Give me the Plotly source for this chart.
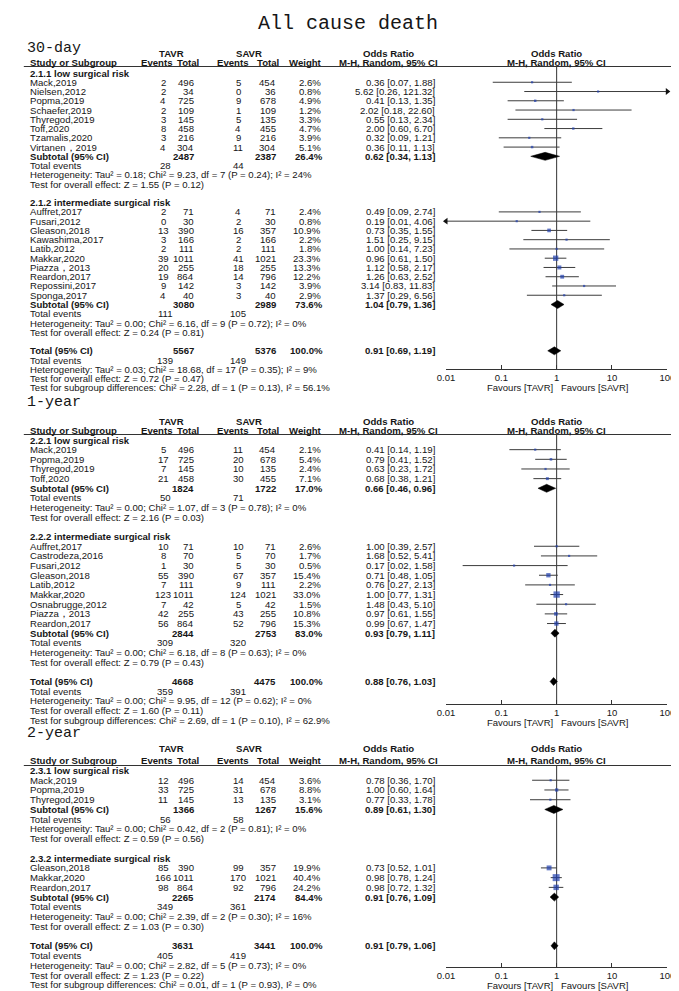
import math
import plotly.graph_objects as go

W, H = 679, 991

# ================= DATA =================
# ---- 30-day ----
d30_low_study = ["Mack,2019", "Nielsen,2012", "Popma,2019", "Schaefer,2019", "Thyregod,2019",
                 "Toff,2020", "Tzamalis,2020", "Virtanen，2019"]
d30_low_te = [2, 2, 4, 2, 3, 8, 3, 4]
d30_low_tn = [496, 34, 725, 109, 145, 458, 216, 304]
d30_low_se = [5, 0, 9, 1, 5, 4, 9, 11]
d30_low_sn = [454, 36, 678, 109, 135, 455, 216, 304]
d30_low_w = [2.6, 0.8, 4.9, 1.2, 3.3, 4.7, 3.9, 5.1]
d30_low_or = [0.36, 5.62, 0.41, 2.02, 0.55, 2.00, 0.32, 0.36]
d30_low_lo = [0.07, 0.26, 0.13, 0.18, 0.13, 0.60, 0.09, 0.11]
d30_low_hi = [1.88, 121.32, 1.35, 22.60, 2.34, 6.70, 1.21, 1.13]
d30_low_sub = [2487, 2387, 26.4, 0.62, 0.34, 1.13]
d30_low_events = [28, 44]
d30_low_het = [0.18, 9.23, 7, 0.24, 24]
d30_low_z = [1.55, 0.12]

d30_int_study = ["Auffret,2017", "Fusari,2012", "Gleason,2018", "Kawashima,2017", "Latib,2012",
                 "Makkar,2020", "Piazza，2013", "Reardon,2017", "Repossini,2017", "Sponga,2017"]
d30_int_te = [2, 0, 13, 3, 2, 39, 20, 19, 9, 4]
d30_int_tn = [71, 30, 390, 166, 111, 1011, 255, 864, 142, 40]
d30_int_se = [4, 2, 16, 2, 2, 41, 18, 14, 3, 3]
d30_int_sn = [71, 30, 357, 166, 111, 1021, 255, 796, 142, 40]
d30_int_w = [2.4, 0.8, 10.9, 2.2, 1.8, 23.3, 13.3, 12.2, 3.9, 2.9]
d30_int_or = [0.49, 0.19, 0.73, 1.51, 1.00, 0.96, 1.12, 1.26, 3.14, 1.37]
d30_int_lo = [0.09, 0.01, 0.35, 0.25, 0.14, 0.61, 0.58, 0.63, 0.83, 0.29]
d30_int_hi = [2.74, 4.06, 1.55, 9.15, 7.23, 1.50, 2.17, 2.52, 11.83, 6.56]
d30_int_sub = [3080, 2989, 73.6, 1.04, 0.79, 1.36]
d30_int_events = [111, 105]
d30_int_het = [0.00, 6.16, 9, 0.72, 0]
d30_int_z = [0.24, 0.81]

d30_total = [5567, 5376, 100.0, 0.91, 0.69, 1.19]
d30_total_events = [139, 149]
d30_total_het = [0.03, 18.68, 17, 0.35, 9]
d30_total_z = [0.72, 0.47]
d30_subdiff = [2.28, 1, 0.13, 56.1]

# ---- 1-year ----
d1y_low_study = ["Mack,2019", "Popma,2019", "Thyregod,2019", "Toff,2020"]
d1y_low_te = [5, 17, 7, 21]
d1y_low_tn = [496, 725, 145, 458]
d1y_low_se = [11, 20, 10, 30]
d1y_low_sn = [454, 678, 135, 455]
d1y_low_w = [2.1, 5.4, 2.4, 7.1]
d1y_low_or = [0.41, 0.79, 0.63, 0.68]
d1y_low_lo = [0.14, 0.41, 0.23, 0.38]
d1y_low_hi = [1.19, 1.52, 1.72, 1.21]
d1y_low_sub = [1824, 1722, 17.0, 0.66, 0.46, 0.96]
d1y_low_events = [50, 71]
d1y_low_het = [0.00, 1.07, 3, 0.78, 0]
d1y_low_z = [2.16, 0.03]

d1y_int_study = ["Auffret,2017", "Castrodeza,2016", "Fusari,2012", "Gleason,2018", "Latib,2012",
                 "Makkar,2020", "Osnabrugge,2012", "Piazza，2013", "Reardon,2017"]
d1y_int_te = [10, 8, 1, 55, 7, 123, 7, 42, 56]
d1y_int_tn = [71, 70, 30, 390, 111, 1011, 42, 255, 864]
d1y_int_se = [10, 5, 5, 67, 9, 124, 5, 43, 52]
d1y_int_sn = [71, 70, 30, 357, 111, 1021, 42, 255, 796]
d1y_int_w = [2.6, 1.7, 0.5, 15.4, 2.2, 33.0, 1.5, 10.8, 15.3]
d1y_int_or = [1.00, 1.68, 0.17, 0.71, 0.76, 1.00, 1.48, 0.97, 0.99]
d1y_int_lo = [0.39, 0.52, 0.02, 0.48, 0.27, 0.77, 0.43, 0.61, 0.67]
d1y_int_hi = [2.57, 5.41, 1.58, 1.05, 2.13, 1.31, 5.10, 1.55, 1.47]
d1y_int_sub = [2844, 2753, 83.0, 0.93, 0.79, 1.11]
d1y_int_events = [309, 320]
d1y_int_het = [0.00, 6.18, 8, 0.63, 0]
d1y_int_z = [0.79, 0.43]

d1y_total = [4668, 4475, 100.0, 0.88, 0.76, 1.03]
d1y_total_events = [359, 391]
d1y_total_het = [0.00, 9.95, 12, 0.62, 0]
d1y_total_z = [1.60, 0.11]
d1y_subdiff = [2.69, 1, 0.10, 62.9]

# ---- 2-year ----
d2y_low_study = ["Mack,2019", "Popma,2019", "Thyregod,2019"]
d2y_low_te = [12, 33, 11]
d2y_low_tn = [496, 725, 145]
d2y_low_se = [14, 31, 13]
d2y_low_sn = [454, 678, 135]
d2y_low_w = [3.6, 8.8, 3.1]
d2y_low_or = [0.78, 1.00, 0.77]
d2y_low_lo = [0.36, 0.60, 0.33]
d2y_low_hi = [1.70, 1.64, 1.78]
d2y_low_sub = [1366, 1267, 15.6, 0.89, 0.61, 1.30]
d2y_low_events = [56, 58]
d2y_low_het = [0.00, 0.42, 2, 0.81, 0]
d2y_low_z = [0.59, 0.56]

d2y_int_study = ["Gleason,2018", "Makkar,2020", "Reardon,2017"]
d2y_int_te = [85, 166, 98]
d2y_int_tn = [390, 1011, 864]
d2y_int_se = [99, 170, 92]
d2y_int_sn = [357, 1021, 796]
d2y_int_w = [19.9, 40.4, 24.2]
d2y_int_or = [0.73, 0.98, 0.98]
d2y_int_lo = [0.52, 0.78, 0.72]
d2y_int_hi = [1.01, 1.24, 1.32]
d2y_int_sub = [2265, 2174, 84.4, 0.91, 0.76, 1.09]
d2y_int_events = [349, 361]
d2y_int_het = [0.00, 2.39, 2, 0.30, 16]
d2y_int_z = [1.03, 0.30]

d2y_total = [3631, 3441, 100.0, 0.91, 0.79, 1.06]
d2y_total_events = [405, 419]
d2y_total_het = [0.00, 2.82, 5, 0.73, 0]
d2y_total_z = [1.23, 0.22]
d2y_subdiff = [0.01, 1, 0.93, 0]

axis_ticks = [0.01, 0.1, 1, 10, 100]
axis_labels = ["0.01", "0.1", "1", "10", "100"]

# ================= STYLE / LAYOUT =================
FONT = "Liberation Sans, Arial, sans-serif"
SERIF = "Liberation Mono, Courier New, monospace"
FS = 9.6
TXT = "#161616"
SQ = "#1f3fae"
LN = "#3c3c3c"

X_STUDY, X_TE, X_TN, X_SE, X_SN, X_W, X_OR = 12, 150, 183, 227, 267, 313, 430
H_TAVR, H_SAVR, H_EV1, H_TOT1, H_EV2, H_TOT2, H_W, H_OR = 158, 238, 143, 175, 221, 257, 296, 381
AX_LO, AX_HI = 440, 667


def grp(title, study, te, tn, se, sn, w, orr, lo, hi, sub, ev, het, z):
    return dict(title=title, study=study, te=te, tn=tn, se=se, sn=sn, w=w, orr=orr, lo=lo, hi=hi,
                sub=sub, ev=ev, het=het, z=z)


sections = [
    dict(label="30-day", label_y=40, hdr1=45, hdr2=54, line=58.5, first=65, step=9.26, axis=361,
         groups=[grp("2.1.1 low surgical risk", d30_low_study, d30_low_te, d30_low_tn, d30_low_se, d30_low_sn,
                     d30_low_w, d30_low_or, d30_low_lo, d30_low_hi, d30_low_sub, d30_low_events, d30_low_het, d30_low_z),
                 grp("2.1.2 intermediate surgical risk", d30_int_study, d30_int_te, d30_int_tn, d30_int_se, d30_int_sn,
                     d30_int_w, d30_int_or, d30_int_lo, d30_int_hi, d30_int_sub, d30_int_events, d30_int_het, d30_int_z)],
         total=d30_total, tev=d30_total_events, thet=d30_total_het, tz=d30_total_z, diff=d30_subdiff),
    dict(label="1-year", label_y=394.5, hdr1=413, hdr2=422.5, line=426.5, first=432, step=9.66, axis=696,
         groups=[grp("2.2.1 low surgical risk", d1y_low_study, d1y_low_te, d1y_low_tn, d1y_low_se, d1y_low_sn,
                     d1y_low_w, d1y_low_or, d1y_low_lo, d1y_low_hi, d1y_low_sub, d1y_low_events, d1y_low_het, d1y_low_z),
                 grp("2.2.2 intermediate surgical risk", d1y_int_study, d1y_int_te, d1y_int_tn, d1y_int_se, d1y_int_sn,
                     d1y_int_w, d1y_int_or, d1y_int_lo, d1y_int_hi, d1y_int_sub, d1y_int_events, d1y_int_het, d1y_int_z)],
         total=d1y_total, tev=d1y_total_events, thet=d1y_total_het, tz=d1y_total_z, diff=d1y_subdiff),
    dict(label="2-year", label_y=725, hdr1=740, hdr2=752.5, line=757.5, first=762.5, step=9.74, axis=959,
         groups=[grp("2.3.1 low surgical risk", d2y_low_study, d2y_low_te, d2y_low_tn, d2y_low_se, d2y_low_sn,
                     d2y_low_w, d2y_low_or, d2y_low_lo, d2y_low_hi, d2y_low_sub, d2y_low_events, d2y_low_het, d2y_low_z),
                 grp("2.3.2 intermediate surgical risk", d2y_int_study, d2y_int_te, d2y_int_tn, d2y_int_se, d2y_int_sn,
                     d2y_int_w, d2y_int_or, d2y_int_lo, d2y_int_hi, d2y_int_sub, d2y_int_events, d2y_int_het, d2y_int_z)],
         total=d2y_total, tev=d2y_total_events, thet=d2y_total_het, tz=d2y_total_z, diff=d2y_subdiff),
]

ann = []
shapes = []
fig = go.Figure()


def T(x, y, s, anchor="left", bold=False, size=FS, font=FONT, xref="x", xshift=0):
    if bold:
        s = "<b>%s</b>" % s
    ann.append(dict(x=x, y=y, xref=xref, yref="y", text=s, showarrow=False, xanchor=anchor,
                    yanchor="middle", xshift=xshift, borderpad=0,
                    font=dict(family=font, size=size, color=TXT)))


def het_txt(h):
    return "Heterogeneity: Tau² = %.2f; Chi² = %.2f, df = %d (P = %.2f); I² = %s%%" % (h[0], h[1], h[2], h[3], format(h[4], "g"))


def z_txt(z):
    return "Test for overall effect: Z = %.2f (P = %.2f)" % (z[0], z[1])


def diff_txt(d):
    return "Test for subgroup differences: Chi² = %.2f, df = %d (P = %.2f), I² = %s%%" % (d[0], d[1], d[2], format(d[3], "g"))


def or_txt(o, l, h):
    return "%.2f [%.2f, %.2f]" % (o, l, h)


# Title
T(W / 2, 15, "All cause death", anchor="center", size=20, font=SERIF)

axes_layout = {}
for k, sec in enumerate(sections):
    n = k + 2
    xa, ya = "x%d" % n, "y%d" % n
    axes_layout["xaxis%d" % n] = dict(
        type="log", range=[-2, 2], domain=[AX_LO / W, AX_HI / W], anchor=ya,
        showline=True, linecolor="#333", linewidth=1,
        ticks="inside", ticklen=4, tickcolor="#333", tickvals=axis_ticks, ticktext=axis_labels,
        tickfont=dict(family=FONT, size=9.5, color=TXT), showgrid=False, zeroline=False, fixedrange=True)
    axes_layout["yaxis%d" % n] = dict(
        domain=[1 - sec["axis"] / H, 1 - sec["line"] / H], range=[sec["axis"], sec["line"]],
        anchor=xa, visible=False, showgrid=False, zeroline=False, fixedrange=True)

    # section label & headers
    T(9, sec["label_y"], sec["label"], size=15, font=SERIF)
    T(H_TAVR, sec["hdr1"], "TAVR", "center", True)
    T(H_SAVR, sec["hdr1"], "SAVR", "center", True)
    T(H_OR, sec["hdr1"], "Odds Ratio", "center", True)
    T(0, sec["hdr1"], "Odds Ratio", "center", True, xref=xa)
    T(X_STUDY, sec["hdr2"], "Study or Subgroup", "left", True)
    T(H_EV1, sec["hdr2"], "Events", "center", True)
    T(H_TOT1, sec["hdr2"], "Total", "center", True)
    T(H_EV2, sec["hdr2"], "Events", "center", True)
    T(H_TOT2, sec["hdr2"], "Total", "center", True)
    T(H_W, sec["hdr2"], "Weight", "center", True)
    T(H_OR, sec["hdr2"], "M-H, Random, 95% CI", "center", True)
    T(0, sec["hdr2"], "M-H, Random, 95% CI", "center", True, xref=xa)
    shapes.append(dict(type="line", xref="x", yref="y", x0=7, x1=W, y0=sec["line"], y1=sec["line"],
                       line=dict(color="#333", width=1)))

    # vertical no-effect line
    fig.add_trace(go.Scatter(x=[1, 1], y=[sec["line"], sec["axis"]], mode="lines", xaxis=xa, yaxis=ya,
                             line=dict(color="#333", width=1), hoverinfo="skip", cliponaxis=False))

    r = 0
    ci_x, ci_y, sq_x, sq_y, sq_s = [], [], [], [], []
    arr_r, arr_l = [], []
    diamonds = []

    def ry(i):
        return sec["first"] + i * sec["step"]

    for g in sec["groups"]:
        T(X_STUDY, ry(r), g["title"], bold=True)
        r += 1
        for i in range(len(g["study"])):
            y = ry(r)
            T(X_STUDY, y, g["study"][i])
            T(X_TE, y, str(g["te"][i]), "center")
            T(X_TN, y, str(g["tn"][i]), "right")
            T(X_SE, y, str(g["se"][i]), "center")
            T(X_SN, y, str(g["sn"][i]), "right")
            T(X_W, y, "%.1f%%" % g["w"][i], "right")
            T(X_OR, y, or_txt(g["orr"][i], g["lo"][i], g["hi"][i]), "right")
            lo = max(g["lo"][i], axis_ticks[0])
            hi = min(g["hi"][i], axis_ticks[-1])
            ci_x += [lo, hi, None]
            ci_y += [y, y, None]
            if g["hi"][i] > axis_ticks[-1]:
                arr_r.append(y)
            if g["lo"][i] <= axis_ticks[0]:
                arr_l.append(y)
            sq_x.append(g["orr"][i])
            sq_y.append(y)
            sq_s.append(max(2.2, 1.1 * math.sqrt(g["w"][i])))
            r += 1
        y = ry(r)
        s = g["sub"]
        T(X_STUDY, y, "Subtotal (95% CI)", bold=True)
        T(X_TN, y, str(s[0]), "right", True)
        T(X_SN, y, str(s[1]), "right", True)
        T(X_W + 2, y, "%.1f%%" % s[2], "right", True)
        T(X_OR, y, or_txt(s[3], s[4], s[5]), "right", True)
        diamonds.append((s[3], s[4], s[5], y))
        r += 1
        y = ry(r)
        T(X_STUDY, y, "Total events")
        T(X_TE + 2, y, str(g["ev"][0]), "center")
        T(X_SE, y, str(g["ev"][1]), "center")
        r += 1
        T(X_STUDY, ry(r), het_txt(g["het"]))
        r += 1
        T(X_STUDY, ry(r), z_txt(g["z"]))
        r += 2  # blank row after
    # overall total
    y = ry(r)
    t = sec["total"]
    T(X_STUDY, y, "Total (95% CI)", bold=True)
    T(X_TN, y, str(t[0]), "right", True)
    T(X_SN, y, str(t[1]), "right", True)
    T(X_W + 2, y, "%.1f%%" % t[2], "right", True)
    T(X_OR, y, or_txt(t[3], t[4], t[5]), "right", True)
    diamonds.append((t[3], t[4], t[5], y))
    r += 1
    y = ry(r)
    T(X_STUDY, y, "Total events")
    T(X_TE + 2, y, str(sec["tev"][0]), "center")
    T(X_SE, y, str(sec["tev"][1]), "center")
    r += 1
    T(X_STUDY, ry(r), het_txt(sec["thet"]))
    r += 1
    T(X_STUDY, ry(r), z_txt(sec["tz"]))
    r += 1
    T(X_STUDY, ry(r), diff_txt(sec["diff"]))

    # forest marks
    fig.add_trace(go.Scatter(x=ci_x, y=ci_y, mode="lines", xaxis=xa, yaxis=ya,
                             line=dict(color=LN, width=1), hoverinfo="skip", cliponaxis=False))
    fig.add_trace(go.Scatter(x=sq_x, y=sq_y, mode="markers", xaxis=xa, yaxis=ya, cliponaxis=False,
                             marker=dict(symbol="square", size=sq_s, color=SQ, line=dict(width=0))))
    if arr_r:
        fig.add_trace(go.Scatter(x=[axis_ticks[-1]] * len(arr_r), y=arr_r, mode="markers", xaxis=xa, yaxis=ya,
                                 cliponaxis=False, marker=dict(symbol="triangle-right", size=6, color="#111")))
    if arr_l:
        fig.add_trace(go.Scatter(x=[axis_ticks[0]] * len(arr_l), y=arr_l, mode="markers", xaxis=xa, yaxis=ya,
                                 cliponaxis=False, marker=dict(symbol="triangle-left", size=6, color="#111")))
    for (o, l, h, y) in diamonds:
        fig.add_trace(go.Scatter(x=[l, o, h, o, l], y=[y, y - 4, y, y + 4, y], mode="lines", fill="toself",
                                 fillcolor="#000", line=dict(color="#000", width=0.5), xaxis=xa, yaxis=ya,
                                 hoverinfo="skip"))

    # favours labels
    fy = sec["axis"] + 18
    T(0, fy, "Favours [TAVR]", "right", size=9.5, xref=xa, xshift=-3)
    T(0, fy, "Favours [SAVR]", "left", size=9.5, xref=xa, xshift=3)

fig.update_layout(
    width=W, height=H, margin=dict(l=0, r=0, t=0, b=0),
    paper_bgcolor="white", plot_bgcolor="white", showlegend=False,
    xaxis=dict(range=[0, W], domain=[0, 1], visible=False, fixedrange=True),
    yaxis=dict(range=[H, 0], domain=[0, 1], visible=False, fixedrange=True),
    annotations=ann, shapes=shapes,
    **axes_layout,
)

fig.write_html("out.html")
